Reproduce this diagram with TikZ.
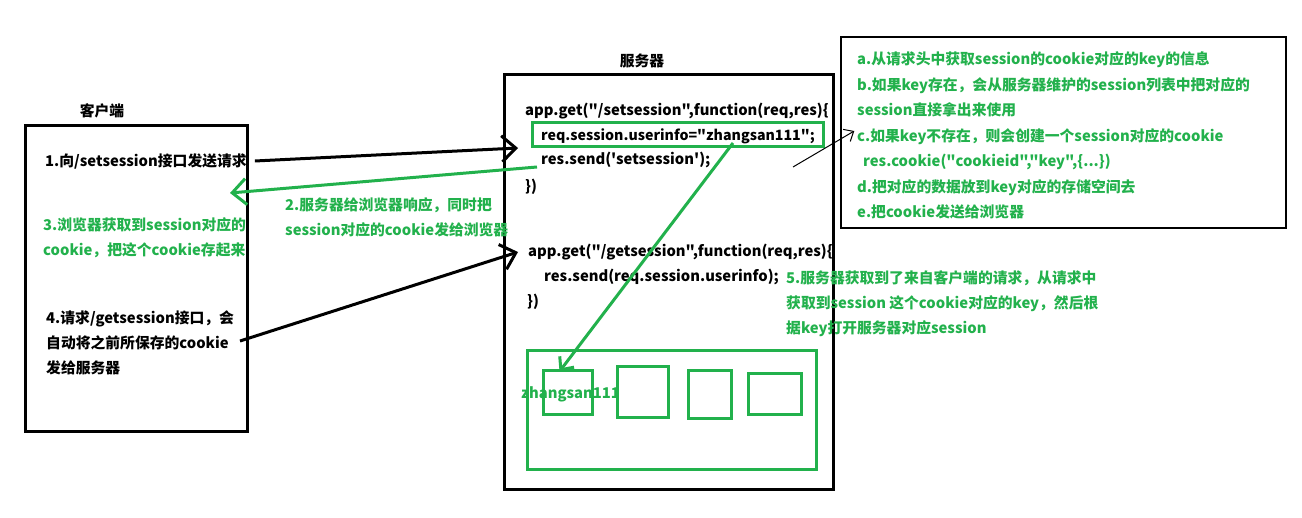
\documentclass[tikz,border=0pt]{standalone}
\usepackage{fontspec}
\setmainfont{Noto Sans CJK SC}[Ligatures=TeXOff]
\usepackage{tikz}
\usetikzlibrary{arrows.meta}
\definecolor{paintgreen}{RGB}{34,177,76}
\tikzstyle{arrow} = [line width=3pt,-{Straight Barb[length=14pt,width=26pt]}]
\tikzstyle{garrow} = [arrow,draw=paintgreen]
\tikzstyle{smallgarrow} = [line width=3pt,draw=paintgreen,-{Straight Barb[length=10pt,width=18pt]}]
\tikzstyle{thinarrow} = [line width=1pt,-{Straight Barb[length=8pt,width=14pt]}]
\tikzstyle{txt} = [font=\bfseries\fontsize{14.8pt}{25pt}\selectfont,inner sep=0pt,align=left,anchor=west]
\tikzstyle{gtxt} = [txt,text=paintgreen]
\tikzstyle{box} = [draw,line width=3pt,inner sep=0pt]
\tikzstyle{gbox} = [box,draw=paintgreen]

\begin{document}
\begin{tikzpicture}[x=1pt,y=-1pt]
    \useasboundingbox (0,0) rectangle (1302,518);
    % Boxes
    \node[box,minimum width=222pt,minimum height=306pt] (client) at (136,279) {};
    \node[box,minimum width=329pt,minimum height=415pt] (server) at (668.5,282.5) {};
    \node[draw,line width=1.5pt,minimum width=445pt,minimum height=191pt] (infobox) at (1063.5,132.5) {};
    \node[txt,anchor=center] (clientlabel) at (102,111) {客户端};
    \node[txt,anchor=center] (serverlabel) at (642,61) {服务器};

    % Client side
    \node[txt] (step1) at (45,161) {1.向/setsession接口发送请求};
    \node[gtxt] (step3) at (43,237.5) {3.浏览器获取到session对应的\\cookie，把这个cookie存起来};
    \node[txt] (step4) at (46,342.5) {4.请求/getsession接口，会\\自动将之前所保存的cookie\\发给服务器};
    \node[gtxt] (step2) at (285,217) {2.服务器给浏览器响应，同时把\\session对应的cookie发给浏览器};

    % Server code
    \node[txt] (set1) at (525,111) {app.get("/setsession",function(req,res)\{};
    \node[txt,font=\bfseries\fontsize{14.2pt}{25pt}\selectfont] (set2) at (541,136) {req.session.userinfo="zhangsan111";};
    \node[txt] (set3) at (541,160) {res.send('setsession');};
    \node[txt] (set4) at (525,187) {\})};
    \node[gbox,minimum width=291pt,minimum height=24pt] (userinfobox) at (677.5,135) {};
    \node[txt] (get1) at (528,252) {app.get("/getsession",function(req,res)\{};
    \node[txt] (get2) at (544,277) {res.send(req.session.userinfo);};
    \node[txt] (get3) at (527,302) {\})};

    % Session store
    \node[gbox,minimum width=289pt,minimum height=119pt] (store) at (671.5,410.5) {};
    \node[gbox,minimum width=49pt,minimum height=44pt] (sess1) at (567.5,393) {};
    \node[gbox,minimum width=51pt,minimum height=51pt] (sess2) at (642.5,392.5) {};
    \node[gbox,minimum width=43pt,minimum height=48pt] (sess3) at (709.5,395) {};
    \node[gbox,minimum width=53pt,minimum height=41pt] (sess4) at (774.5,394.5) {};
    \node[gtxt] (sessid) at (521,394) {zhangsan111};

    \node[gtxt] (step5) at (786,303.5) {5.服务器获取到了来自客户端的请求，从请求中\\获取到session 这个cookie对应的key，然后根\\据key打开服务器对应session};
    \node[gtxt,font=\bfseries\fontsize{14.8pt}{25.5pt}\selectfont] (steps) at (857,135.5) {a.从请求头中获取session的cookie对应的key的信息\\b.如果key存在，会从服务器维护的session列表中把对应的\\session直接拿出来使用\\c.如果key不存在，则会创建一个session对应的cookie\\\hspace*{6pt}res.cookie("cookieid","key",\{...\})\\d.把对应的数据放到key对应的存储空间去\\e.把cookie发送给浏览器};

    % Edges
    \coordinate (reqin) at (518,148);
    \coordinate (respond) at (230,193);
    \coordinate (cookiesend) at (240,341);
    \coordinate (lookup) at (733,143);
    \coordinate (infofrom) at (793,167);
    \draw[arrow] ([xshift=8pt]step1.east) -- (reqin);
    \draw[garrow] ([shift={(-4,7)}]set3.west) -- (respond);
    \draw[arrow] (cookiesend) -- ([xshift=-10pt]get1.west);
    \draw[smallgarrow] (lookup) -- ([xshift=-8pt,yshift=-2pt]sess1.north);
    \draw[thinarrow] (infofrom) -- ([xshift=14pt,yshift=1.5pt]infobox.west);
\end{tikzpicture}
\end{document}
